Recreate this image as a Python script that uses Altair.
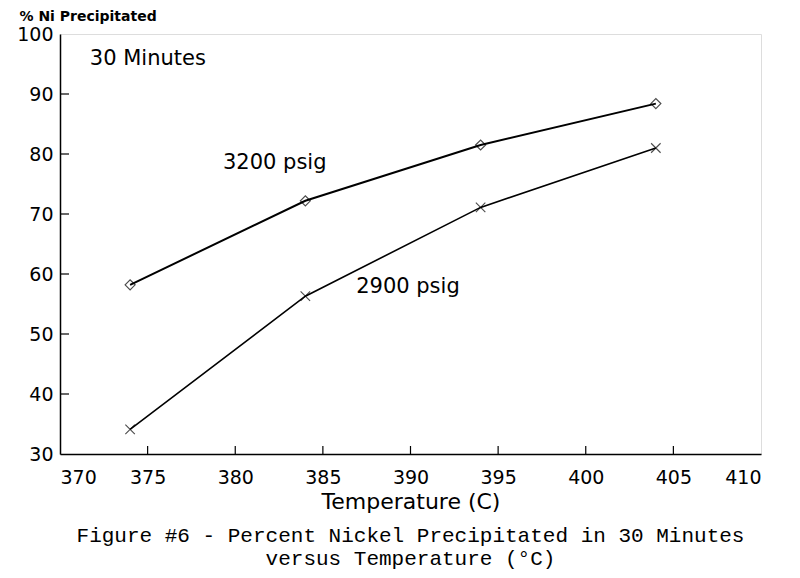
import altair as alt
import pandas as pd

temps = [374, 384, 394, 404]
ni_3200 = [58.2, 72.2, 81.5, 88.4]
ni_2900 = [34.1, 56.3, 71.1, 81.0]
x_ticks = [375, 380, 385, 390, 395, 400, 405]
y_ticks = [40, 50, 60, 70, 80, 90]
label_text = ["30 Minutes", "3200 psig", "2900 psig"]
label_x = [371.7, 379.3, 386.9]
label_y = [95.9, 78.5, 57.8]

df = pd.DataFrame({
    "temp": temps * 2,
    "ni": ni_3200 + ni_2900,
    "series": ["3200 psig"] * 4 + ["2900 psig"] * 4,
})
df32 = df[df.series == "3200 psig"]
df29 = df[df.series == "2900 psig"]
labels_df = pd.DataFrame({"t": label_text, "x": label_x, "y": label_y})
xt_df = pd.DataFrame({"t": x_ticks})
yt_df = pd.DataFrame({"t": y_ticks})

FONT = "DejaVu Sans"
xs = alt.Scale(domain=[370, 410], nice=False)
ys = alt.Scale(domain=[30, 100], nice=False)

xaxis = alt.Axis(values=list(range(370, 411, 5)), ticks=False, grid=False,
                 labelFont=FONT, labelFontSize=19, labelColor="black", labelPadding=14,
                 domainColor="black", domainWidth=1.5,
                 title="Temperature (C)", titleFont=FONT, titleFontSize=22,
                 titleFontWeight="normal", titleColor="black",
                 titleBaseline="middle", titleY=47)
yaxis = alt.Axis(values=list(range(30, 101, 10)), ticks=False, grid=False,
                 labelFont=FONT, labelFontSize=19, labelColor="black", labelPadding=7,
                 domainColor="black", domainWidth=1.5,
                 title="% Ni Precipitated", titleFont=FONT, titleFontSize=14,
                 titleFontWeight="bold", titleColor="black", titleAngle=0,
                 titleAlign="left", titleBaseline="middle", titleX=-41, titleY=-18)

base_x = alt.X("temp:Q", scale=xs, axis=xaxis)
base_y = alt.Y("ni:Q", scale=ys, axis=yaxis)

line32 = alt.Chart(df32).mark_line(color="black", strokeWidth=2).encode(x=base_x, y=base_y)
pts32 = alt.Chart(df32).mark_point(shape="diamond", filled=False, color="black",
                                   size=100, strokeWidth=1.2).encode(x="temp:Q", y="ni:Q")
line29 = alt.Chart(df29).mark_line(color="black", strokeWidth=1.6).encode(x="temp:Q", y="ni:Q")
pts29 = alt.Chart(df29).mark_point(shape="M-1,-1L1,1M-1,1L1,-1", filled=False, color="black",
                                   size=90, strokeWidth=1.1).encode(x="temp:Q", y="ni:Q")

texts = alt.Chart(labels_df).mark_text(align="left", baseline="middle", font=FONT,
                                       fontSize=21, color="black").encode(
    x=alt.X("x:Q", scale=xs), y=alt.Y("y:Q", scale=ys), text="t:N")

xticks = alt.Chart(xt_df).mark_rule(color="black", strokeWidth=1.2).encode(
    x=alt.X("t:Q", scale=xs), y=alt.value(420), y2=alt.value(412))
yticks = alt.Chart(yt_df).mark_rule(color="black", strokeWidth=1.2).encode(
    y=alt.Y("t:Q", scale=ys), x=alt.value(0), x2=alt.value(9))

chart = alt.layer(line32, line29, pts32, pts29, texts, xticks, yticks).properties(
    width=701, height=420,
    autosize=alt.AutoSizeParams(type="none"),
    padding={"left": 52, "top": 26, "right": 30, "bottom": 120},
    title=alt.TitleParams(
        text=["Figure #6 - Percent Nickel Precipitated in 30 Minutes",
              "versus Temperature (°C)"],
        orient="bottom", anchor="middle", font="Liberation Mono", fontSize=21,
        fontWeight="normal", color="black", offset=13, lineHeight=23),
).configure_view(stroke="black", strokeWidth=1.5).configure(background="white")

chart.save("out.html", embed_options={"renderer": "svg", "actions": False})
